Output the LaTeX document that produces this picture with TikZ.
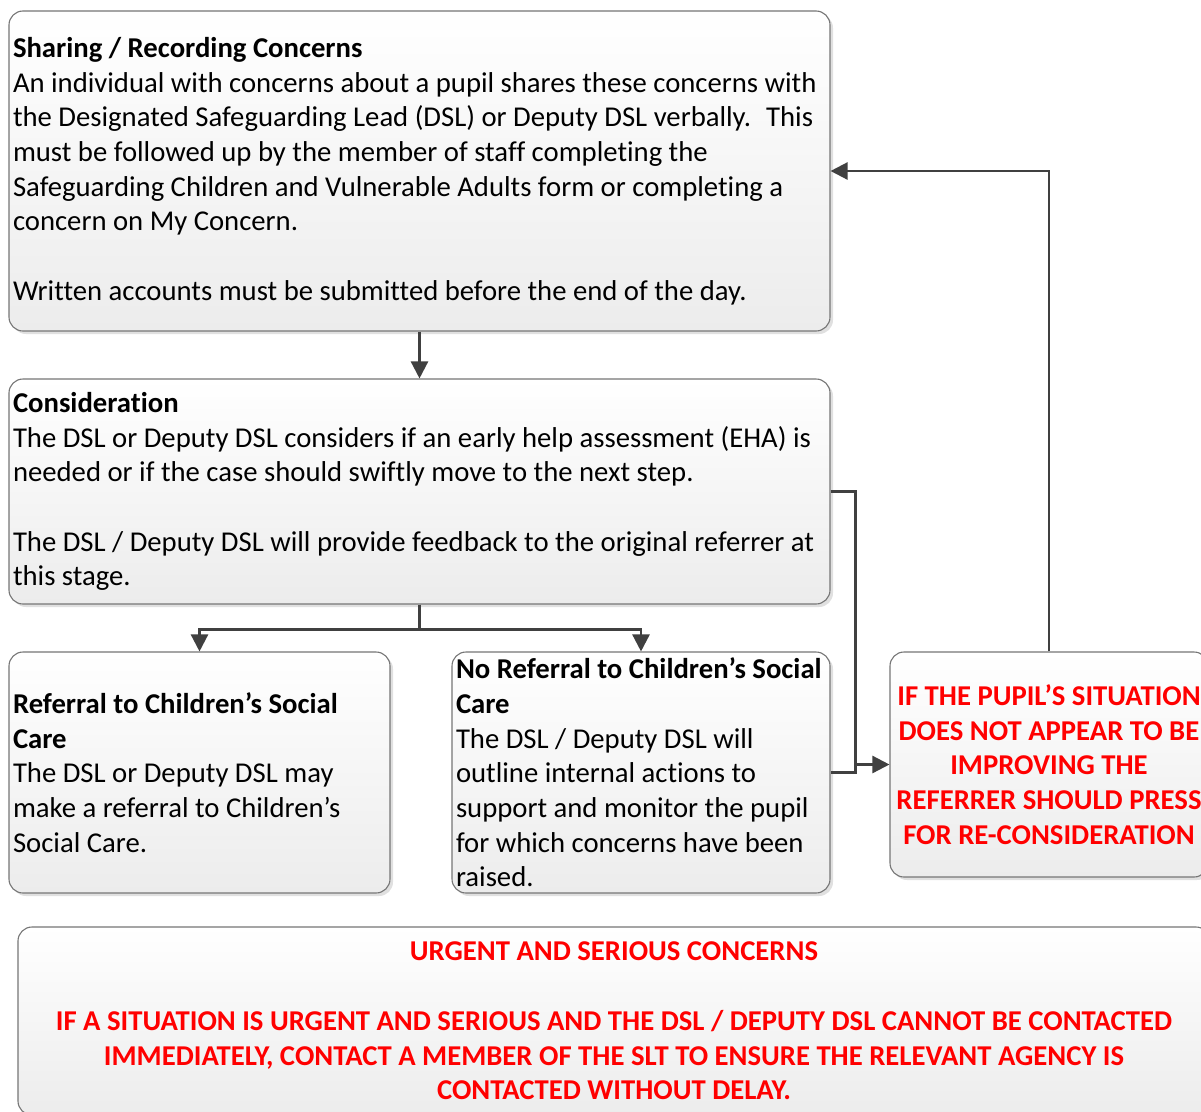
\documentclass[tikz,border=0pt]{standalone}
\usepackage{fontspec}
\setmainfont{Carlito}[Ligatures=NoCommon]
\usetikzlibrary{arrows.meta,calc,shadows}
\definecolor{boxline}{RGB}{118,118,118}
\definecolor{boxfill}{RGB}{236,236,236}
\definecolor{linkgray}{RGB}{64,64,64}
\definecolor{alertred}{RGB}{255,0,0}

\begin{document}
\begin{tikzpicture}[x=1pt,y=-1pt,
  box/.style={draw=boxline, line width=1.1pt, rounded corners=14pt,
    top color=white, bottom color=boxfill,
    drop shadow={shadow xshift=3pt, shadow yshift=-3pt, fill=black, opacity=.12},
    font=\fontsize{28.7}{34.7}\selectfont, inner xsep=4pt, inner ysep=0pt},
  info/.style={box, align=flush left},
  alert/.style={box, align=center, text=alertred, font=\fontsize{28.7}{34.7}\selectfont\bfseries},
  link/.style={draw=linkgray, line width=2.4pt},
  conn/.style={link, -{Triangle[length=17pt,width=17pt]}}]
  \clip (0,0) rectangle (1201,1111);
  \fill[white] (0,0) rectangle (1201,1111);

  % boxes
  \node[info, text width=813pt, minimum height=320pt] (share) at (419.5,171) {%
    \textbf{Sharing / Recording Concerns}\\
    An individual with concerns about a pupil shares these concerns with\\
    the Designated Safeguarding Lead (DSL) or Deputy DSL verbally.~ This\\
    must be followed up by the member of staff completing the\\
    Safeguarding Children and Vulnerable Adults form or completing a\\
    concern on My Concern.\\
    ~\\
    Written accounts must be submitted before the end of the day.};
  \node[info, text width=813pt, minimum height=225pt] (consider) at (419.5,491.5) {%
    \textbf{Consideration}\\
    The DSL or Deputy DSL considers if an early help assessment (EHA) is\\
    needed or if the case should swiftly move to the next step.\\
    ~\\
    The DSL / Deputy DSL will provide feedback to the original referrer at\\
    this stage.};
  \node[info, text width=373pt, minimum height=241pt] (refer) at (199.5,772.5) {%
    \textbf{Referral to Children’s Social}\\
    \textbf{Care}\\
    The DSL or Deputy DSL may\\
    make a referral to Children’s\\
    Social Care.};
  \node[info, text width=370pt, minimum height=241pt] (noref) at (641,772.5) {%
    \textbf{No Referral to Children’s Social}\\
    \textbf{Care}\\
    The DSL / Deputy DSL will\\
    outline internal actions to\\
    support and monitor the pupil\\
    for which concerns have been\\
    raised.};
  \node[alert, minimum width=318pt, minimum height=225pt] (press) at (1049,764.5) {%
    IF THE PUPIL’S SITUATION\\
    DOES NOT APPEAR TO BE\\
    IMPROVING THE\\
    REFERRER SHOULD PRESS\\
    FOR RE-CONSIDERATION};
  \node[alert, minimum width=1192pt, minimum height=188pt] (urgent) at (614,1021) {%
    URGENT AND SERIOUS CONCERNS\\
    ~\\
    IF A SITUATION IS URGENT AND SERIOUS AND THE DSL / DEPUTY DSL CANNOT BE CONTACTED\\
    IMMEDIATELY, CONTACT A MEMBER OF THE SLT TO ENSURE THE RELEVANT AGENCY IS\\
    CONTACTED WITHOUT DELAY.};

  % connectors
  \draw[conn] (share.south) -- (consider.north);
  \draw[conn] (consider.south) -- ++(0,25) -| (refer.north);
  \draw[conn] (consider.south) -- ++(0,25) -| (noref.north);
  \coordinate (bend) at ($(consider.east)+(25,0)$);
  \draw[link] (consider.east) -- (bend) |- (noref.east);
  \draw[conn] (bend |- press.west) -- (press.west);
  \draw[conn] (press.north) |- (share.east);
\end{tikzpicture}
\end{document}
